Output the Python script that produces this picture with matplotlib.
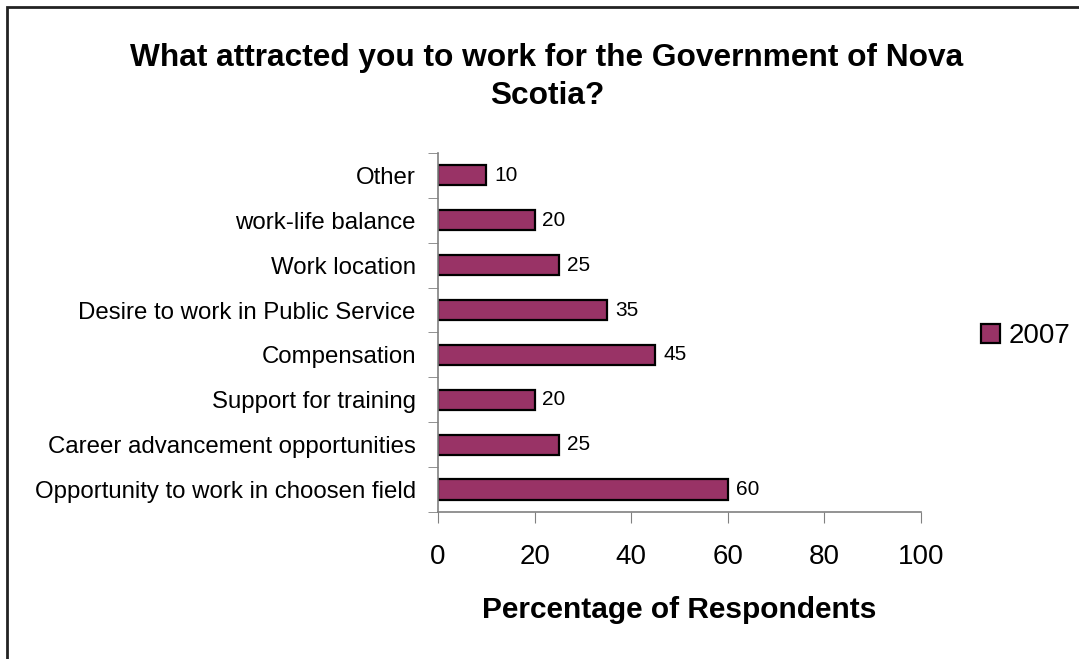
import numpy as np
import matplotlib
matplotlib.use("Agg")
import matplotlib.pyplot as plt
from matplotlib.patches import Rectangle

plt.rcParams["font.family"] = ["Liberation Sans", "DejaVu Sans"]

categories = [
    "Opportunity to work in choosen field",
    "Career advancement opportunities",
    "Support for training",
    "Compensation",
    "Desire to work in Public Service",
    "Work location",
    "work-life balance",
    "Other",
]
values_2007 = [60, 25, 20, 45, 35, 25, 20, 10]
x_ticks = [0, 20, 40, 60, 80, 100]

BAR_COLOR = "#993366"
AXIS_COLOR = "#808080"

fig = plt.figure(figsize=(10.79, 6.59), dpi=100)
ax = fig.add_axes([0.406, 0.223, 0.4476, 0.545])

y_pos = np.arange(len(categories))
bars = ax.barh(y_pos, values_2007, height=0.45, color=BAR_COLOR,
               edgecolor="black", linewidth=1.6, label="2007")

for i, v in enumerate(values_2007):
    ax.text(v + 1.6, i, f"{v}", va="center", ha="left", fontsize=15)

ax.set_xlim(0, 100)
ax.set_ylim(-0.5, len(categories) - 0.5)
ax.set_xticks(x_ticks)
ax.set_xticklabels([str(t) for t in x_ticks], fontsize=20)
ax.set_yticks(y_pos)
ax.set_yticklabels(categories, fontsize=17.3)
ax.set_yticks(np.arange(-0.5, len(categories)), minor=True)
ax.tick_params(axis="y", which="major", length=0, pad=16)
ax.tick_params(axis="y", which="minor", length=7, color=AXIS_COLOR, direction="out")
ax.tick_params(axis="x", length=8, color=AXIS_COLOR, direction="out", pad=15)

for side in ["top", "right"]:
    ax.spines[side].set_visible(False)
for side in ["left", "bottom"]:
    ax.spines[side].set_color(AXIS_COLOR)
    ax.spines[side].set_linewidth(1.2)

ax.set_xlabel("Percentage of Respondents", fontsize=21.5, fontweight="bold", labelpad=19)

fig.text(0.507, 0.883, "What attracted you to work for the Government of Nova\nScotia?",
         ha="center", va="center", fontsize=22.8, fontweight="bold", linespacing=1.35)

fig.legend(handles=[bars], labels=["2007"], loc="center left",
           bbox_to_anchor=(0.886, 0.49), frameon=False, fontsize=20,
           handlelength=0.7, handleheight=0.7, handletextpad=0.3)

fig.patches.append(Rectangle((7 / 1079, -0.1), 1.2, 1 - 7 / 659 + 0.1,
                             transform=fig.transFigure, fill=False,
                             edgecolor="#222222", linewidth=2))

fig.savefig("out.png", dpi=100)
plt.close(fig)
